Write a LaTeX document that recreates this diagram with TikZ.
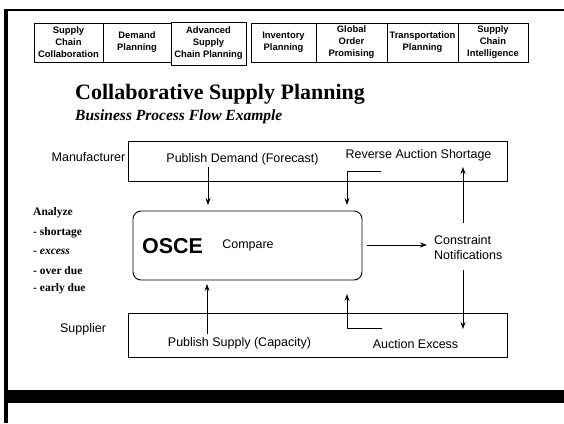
\documentclass[tikz,border=0pt]{standalone}
\usepackage{fontspec}
\setmainfont{Liberation Serif}
\setsansfont{Liberation Sans}
\usetikzlibrary{arrows.meta}
\begin{document}
\begin{tikzpicture}[x=1pt,y=-1pt,
  hdr/.style={draw,line width=0.9pt,minimum height=39pt,inner sep=0pt,font=\sffamily\bfseries\fontsize{9.4}{12}\selectfont,align=center},
  lane/.style={draw,line width=0.9pt,inner sep=0pt},
  lbl/.style={font=\sffamily\fontsize{12.5}{15}\selectfont,inner sep=0pt},
  arr/.style={line width=1pt,-{Stealth[length=7pt,width=5pt]}},
  ana/.style={font=\bfseries\fontsize{11.5}{12}\selectfont,inner sep=0pt,anchor=west}]
\useasboundingbox (0,0) rectangle (564,423);
\fill[white] (0,0) rectangle (564,423);
% frame
\draw[line width=3.2pt] (6,9) -- (6,423);
\draw[line width=1.5pt] (4.5,9.8) -- (564,9.8);
\fill[black] (6,390) rectangle (564,403);
% header
\node[hdr,minimum width=69pt] (h1) at (68.5,42.5) {Supply\\Chain\\Collaboration};
\node[hdr,minimum width=68pt] (h2) at (137,42.5) {Demand\\Planning};
\node[hdr,minimum width=75pt,minimum height=43pt] (h3) at (208.5,43.5) {Advanced\\Supply\\Chain Planning};
\node[hdr,minimum width=65pt] (h4) at (283.5,42.5) {Inventory\\Planning};
\node[hdr,minimum width=71pt] (h5) at (351.5,42.5) {Global\\Order\\Promising};
\node[hdr,minimum width=71pt] (h6) at (422.5,42.5) {Transportation\\Planning};
\node[hdr,minimum width=70pt] (h7) at (493,42.5) {Supply\\Chain\\Intelligence};
% titles
\node[anchor=base west,inner sep=0pt,font=\bfseries\fontsize{22}{24}\selectfont] (title) at (75,99) {Collaborative Supply Planning};
\node[anchor=base west,inner sep=0pt,font=\bfseries\itshape\fontsize{15.5}{17}\selectfont] (sub) at (75,120.5) {Business Process Flow Example};
% lanes
\node[lane,minimum width=379pt,minimum height=40pt] (man) at (317.5,161) {};
\node[lane,minimum width=379pt,minimum height=44pt] (sup) at (317.5,335) {};
\node[lbl,anchor=east] (manl) at (125.5,157) {Manufacturer};
\node[lbl] (sul) at (83,329) {Supplier};
\node[lbl] (pd) at (242.5,159) {Publish Demand (Forecast)};
\node[lbl] (ras) at (418.5,155.5) {Reverse Auction Shortage};
\node[lbl] (ps) at (239.5,343) {Publish Supply (Capacity)};
\node[lbl] (ae) at (415.5,344.5) {Auction Excess};
% OSCE
\node[draw,line width=0.9pt,rounded corners=8pt,minimum width=229pt,minimum height=69pt] (osce) at (247.5,245.5) {};
\node[font=\sffamily\bfseries\fontsize{21.5}{23}\selectfont,inner sep=0pt] (os) at (172.5,246) {OSCE};
\node[lbl] (cmp) at (248,245) {Compare};
\node[lbl,align=left,anchor=west,font=\sffamily\fontsize{12.5}{15}\selectfont] (cn) at (434,247.5) {Constraint\\Notifications};
% analyze
\node[ana] (a0) at (33,213) {Analyze};
\node[ana] (a1) at (33,233) {- shortage};
\node[ana] (a2) at (33,252) {- \textit{excess}};
\node[ana] (a3) at (33,271) {- over due};
\node[ana] (a4) at (33,289) {- early due};
% connectors
\coordinate (pdd) at (208,167);
\coordinate (rasa) at (381,171);
\coordinate (aea) at (382,328);
\coordinate (cnt) at (463,223);
\coordinate (cnb) at (463,270);
\coordinate (cmpr) at (367,245);
\coordinate (psu) at (207,334);
\draw[arr] (pdd) -- (208,205);
\draw[arr] (rasa) -- (347,171) -- (347,205);
\draw[arr] (cnt) -- (463,167);
\draw[arr] (cmpr) -- (427,245);
\draw[arr] (cnb) -- (463,329);
\draw[arr] (aea) -- (347,328) -- (347,294);
\draw[arr] (psu) -- (207,284);
\end{tikzpicture}
\end{document}
